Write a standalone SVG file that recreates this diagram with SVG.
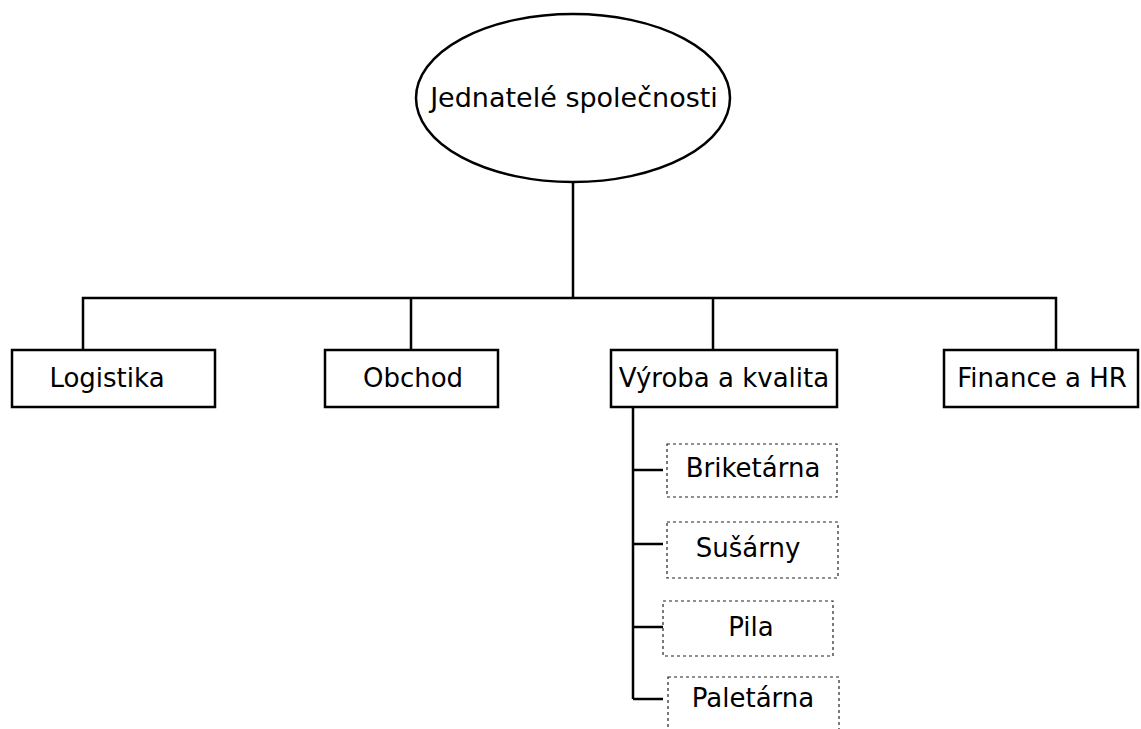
<svg xmlns="http://www.w3.org/2000/svg" width="1141" height="729" viewBox="0 0 1141 729">
<style>
.box{fill:#fff;stroke:#000;stroke-width:2.5}
.sub{fill:#fff;stroke:#222;stroke-width:1.2;stroke-dasharray:3 3}
.ln{fill:none;stroke:#000;stroke-width:2.5}
text{font-family:"DejaVu Sans",Verdana,sans-serif;font-size:26px;fill:#000;text-anchor:middle}
.big{font-size:27px}
</style>
<rect width="1141" height="729" fill="#fff"/>
<g id="connectors">
<path class="ln" d="M573 182V298M83 350V298H1056V350M411 298V350M713 298V350"/>
<path class="ln" d="M633 407V699M633 470H663M633 544H663M633 627H663M633 699H663"/>
</g>
<g id="n-jednatele">
<ellipse cx="573" cy="98" rx="157" ry="84" fill="#fff" stroke="#000" stroke-width="2.5"/>
<text class="big" x="574" y="107">Jednatelé společnosti</text>
</g>
<g id="n-logistika"><rect class="box" x="12" y="350" width="203" height="57"/><text x="107" y="387">Logistika</text></g>
<g id="n-obchod"><rect class="box" x="325" y="350" width="173" height="57"/><text x="413" y="387">Obchod</text></g>
<g id="n-vyroba"><rect class="box" x="611" y="350" width="226" height="57"/><text x="724" y="387">Výroba a kvalita</text></g>
<g id="n-finance"><rect class="box" x="944" y="350" width="194" height="57"/><text x="1042" y="387">Finance a HR</text></g>
<g id="n-briketarna"><rect class="sub" x="667" y="444" width="170" height="53"/><text x="753" y="477">Briketárna</text></g>
<g id="n-susarny"><rect class="sub" x="667" y="522" width="171" height="56"/><text x="748" y="557">Sušárny</text></g>
<g id="n-pila"><rect class="sub" x="663" y="601" width="170" height="55"/><text x="751" y="636">Pila</text></g>
<g id="n-paletarna"><rect class="sub" x="668" y="677" width="171" height="70"/><text x="753" y="707">Paletárna</text></g>
</svg>
